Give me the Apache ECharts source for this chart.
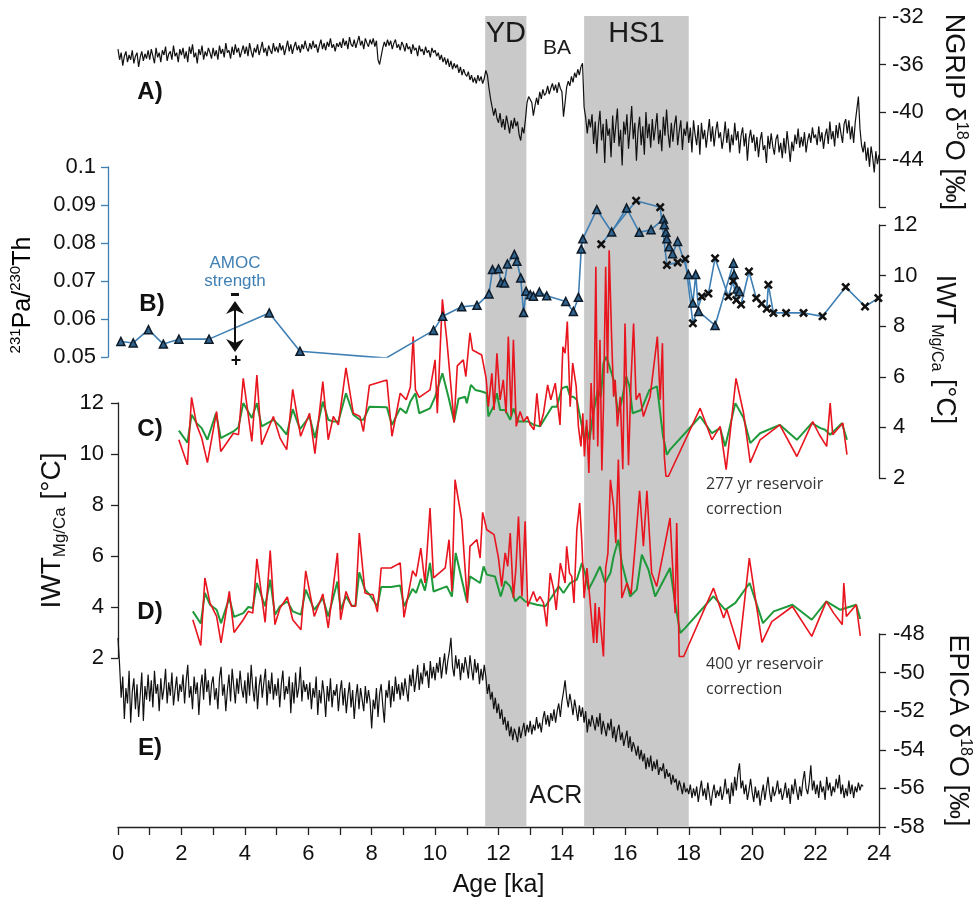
<!DOCTYPE html>
<html>
<head>
<meta charset="utf-8">
<script src="https://cdn.jsdelivr.net/npm/echarts@6/dist/echarts.min.js"></script>
<style>
  html, body { margin: 0; padding: 0; background: #fff; }
  #chart { width: 973px; height: 899px; }
</style>
</head>
<body>
<div id="chart"></div>
<script>
// ---------------- data ----------------
// shaded intervals (ka)
const ydBand = [11.58, 12.88];
const hs1Band = [14.70, 18.00];

// NGRIP d18O (permil), evenly sampled from 0 ka every 0.05 ka (one row per ka)
const ngripStart = 0, ngripStep = 0.05;
const ngripD18O = [
  -34.7,-35.6,-35.0,-36.1,-35.3,-34.9,-35.8,-35.2,-35.6,-34.8,-35.9,-35.3,-35.0,-36.2,-35.4,-34.9,-35.7,-35.1,-35.5,-34.8,
  -35.6,-34.7,-35.3,-35.9,-34.6,-35.4,-35.0,-35.8,-34.8,-35.2,-34.5,-35.7,-35.1,-34.9,-35.6,-34.4,-35.3,-35.0,-35.8,-34.7,
  -35.2,-34.6,-35.5,-34.9,-35.8,-34.5,-35.1,-34.3,-35.4,-35.0,-35.9,-34.7,-35.2,-34.4,-35.6,-34.9,-35.3,-34.6,-35.0,-35.5,
  -34.6,-35.3,-34.8,-35.6,-34.4,-35.1,-34.7,-35.4,-34.2,-35.0,-34.8,-35.5,-34.5,-35.2,-34.3,-35.0,-34.6,-35.4,-34.9,-34.4,
  -35.1,-34.5,-35.3,-34.2,-34.9,-35.4,-34.6,-35.0,-34.3,-35.2,-34.7,-34.1,-35.0,-34.6,-35.3,-34.4,-34.8,-35.1,-34.2,-34.9,
  -34.5,-35.0,-34.2,-34.8,-34.4,-35.2,-34.6,-34.0,-34.9,-34.3,-35.1,-34.5,-34.1,-34.8,-34.4,-35.0,-34.3,-34.7,-34.0,-34.6,
  -34.9,-34.2,-34.7,-34.0,-34.6,-34.3,-35.0,-34.4,-33.9,-34.7,-34.2,-34.8,-34.1,-34.5,-33.8,-34.6,-34.3,-34.9,-34.2,-34.5,
  -34.1,-34.6,-33.8,-34.4,-34.0,-34.7,-33.7,-34.3,-34.5,-33.9,-34.6,-34.1,-33.6,-34.4,-34.0,-34.7,-33.8,-34.2,-34.5,-33.9,
  -34.3,-33.8,-34.5,-34.0,-35.6,-36.0,-35.3,-34.6,-34.1,-34.5,-33.9,-34.4,-34.0,-34.7,-34.2,-33.9,-34.6,-34.3,-34.8,-34.1,
  -34.4,-34.9,-34.2,-34.7,-34.5,-35.1,-34.3,-34.8,-34.6,-35.3,-34.4,-34.9,-34.7,-35.2,-34.5,-35.0,-34.8,-35.4,-34.6,-35.0,
  -34.8,-35.3,-35.0,-35.6,-35.2,-35.8,-35.4,-36.0,-35.5,-36.2,-35.7,-36.4,-35.9,-36.3,-36.0,-36.7,-36.2,-36.9,-36.4,-36.8,
  -37.0,-36.6,-37.3,-36.9,-37.5,-37.1,-37.6,-36.9,-37.4,-37.0,-37.6,-37.2,-36.5,-36.9,-38.0,-38.9,-39.6,-40.3,-39.7,-40.5,
  -40.9,-40.1,-41.3,-40.6,-41.5,-40.3,-41.0,-41.8,-40.7,-41.4,-40.5,-41.2,-40.8,-41.9,-42.4,-41.3,-41.8,-40.6,-39.2,-38.7,
  -38.6,-39.2,-40.3,-39.5,-38.8,-39.4,-38.3,-38.9,-38.1,-38.6,-38.4,-37.8,-38.5,-38.0,-37.6,-38.2,-37.7,-38.4,-37.5,-38.0,
  -38.3,-40.4,-39.2,-37.9,-37.4,-37.8,-37.0,-37.5,-36.7,-37.1,-36.4,-36.9,-36.2,-35.9,-39.6,-40.5,-41.8,-40.6,-41.3,-40.2,
  -42.7,-40.8,-43.5,-41.2,-39.9,-42.4,-41.0,-44.3,-40.6,-42.0,-41.4,-43.8,-40.3,-42.6,-41.1,-39.7,-42.9,-41.5,-44.5,-40.8,
  -41.9,-40.2,-43.1,-41.4,-39.5,-42.3,-40.9,-44.1,-41.6,-40.4,-42.8,-41.2,-43.6,-40.0,-42.2,-41.0,-43.0,-40.6,-42.4,-41.3,
  -40.1,-42.7,-41.5,-43.3,-40.4,-42.0,-39.8,-41.8,-43.0,-40.9,-42.5,-41.1,-40.3,-42.8,-41.6,-40.7,-43.2,-41.4,-42.0,-40.8,
  -42.6,-41.3,-43.4,-40.7,-41.9,-42.8,-41.1,-43.6,-40.9,-42.3,-41.5,-43.0,-41.8,-40.6,-42.5,-41.2,-42.9,-41.6,-40.8,-42.2,
  -41.7,-43.1,-42.2,-40.8,-42.6,-41.4,-43.4,-41.9,-42.8,-40.9,-42.4,-41.6,-43.5,-42.0,-41.3,-42.9,-41.8,-44.1,-42.3,-41.5,
  -42.6,-41.9,-43.3,-42.1,-43.8,-42.4,-41.7,-43.2,-42.8,-44.3,-42.0,-43.1,-41.8,-42.9,-43.6,-42.3,-41.9,-43.4,-42.6,-43.9,
  -42.2,-43.5,-41.6,-42.8,-44.2,-42.5,-43.3,-41.9,-42.7,-41.4,-43.0,-42.1,-42.9,-41.7,-43.4,-42.4,-41.8,-42.6,-41.3,-42.2,
  -41.9,-42.8,-41.2,-42.5,-41.7,-43.1,-42.0,-41.4,-42.7,-40.8,-42.3,-41.6,-42.9,-41.1,-42.2,-40.9,-41.8,-42.6,-41.0,-40.6,
  -41.8,-40.7,-42.3,-41.2,-42.6,-40.9,-39.8,-38.7,-41.4,-42.8,-43.4,-42.5,-44.1,-43.0,-44.6,-42.9,-43.8,-45.1,-43.3,-44.4,
  -43.6
];

// EPICA d18O (permil), evenly sampled from 0 ka every 0.05 ka (one row per ka)
const epicaStart = 0, epicaStep = 0.05;
const epicaD18O = [
  -48.2,-49.6,-51.3,-50.2,-52.4,-50.8,-51.6,-49.9,-52.6,-51.0,-50.3,-51.9,-50.6,-52.3,-51.2,-50.0,-52.5,-50.7,-51.4,-50.1,
  -51.5,-50.4,-51.8,-49.9,-51.1,-50.6,-52.0,-50.3,-51.4,-50.8,-49.8,-51.6,-50.5,-51.2,-50.0,-51.7,-50.9,-50.2,-51.5,-50.6,
  -51.0,-50.1,-51.6,-50.4,-49.6,-51.3,-50.7,-51.9,-50.2,-51.1,-50.5,-52.2,-50.8,-50.1,-51.4,-49.8,-51.0,-50.4,-51.7,-50.6,
  -50.2,-51.4,-50.8,-51.9,-50.3,-49.7,-51.2,-50.6,-52.0,-50.9,-50.1,-51.5,-49.8,-50.7,-51.6,-50.3,-51.1,-49.9,-50.8,-51.3,
  -50.4,-51.6,-50.0,-51.2,-49.6,-50.8,-51.5,-50.2,-51.9,-50.7,-50.1,-51.3,-50.5,-49.8,-51.7,-50.4,-51.1,-50.0,-51.4,-50.6,
  -51.2,-50.3,-51.8,-50.6,-49.9,-51.4,-50.7,-51.1,-50.2,-52.1,-50.5,-51.6,-50.0,-51.3,-50.8,-49.7,-51.5,-50.4,-51.0,-50.6,
  -51.4,-50.5,-51.9,-50.8,-51.3,-50.2,-52.2,-50.9,-51.6,-50.4,-51.1,-52.3,-50.7,-51.5,-50.3,-51.8,-50.9,-51.2,-50.6,-52.0,
  -51.0,-50.4,-51.7,-50.8,-52.1,-51.2,-50.5,-51.8,-50.9,-52.4,-51.3,-50.6,-51.9,-50.8,-51.4,-52.0,-50.7,-51.6,-50.9,-51.5,
  -52.9,-51.4,-51.9,-50.8,-52.3,-51.1,-50.6,-51.7,-52.6,-50.9,-51.3,-50.4,-51.8,-50.7,-51.5,-50.2,-51.1,-50.6,-51.4,-50.5,
  -51.2,-50.3,-50.9,-51.5,-50.1,-50.7,-49.8,-51.0,-50.4,-49.6,-50.9,-50.0,-50.6,-49.5,-50.2,-49.9,-50.8,-49.4,-50.3,-49.7,
  -50.4,-49.5,-50.0,-49.2,-50.3,-49.6,-49.0,-50.1,-49.4,-48.9,-48.2,-49.7,-50.2,-49.1,-49.8,-49.3,-50.4,-49.5,-50.0,-49.2,
  -49.7,-50.3,-49.1,-49.8,-50.4,-49.3,-50.0,-49.5,-50.6,-49.8,-50.4,-49.6,-50.2,-51.1,-50.6,-51.4,-51.0,-51.9,-51.3,-52.1,
  -51.6,-52.4,-51.9,-52.7,-52.3,-53.0,-52.5,-53.3,-52.8,-53.5,-52.9,-53.2,-53.6,-52.8,-53.4,-53.0,-52.6,-53.3,-52.7,-53.1,
  -52.5,-53.2,-52.7,-53.0,-52.3,-52.9,-52.6,-53.1,-52.4,-52.0,-52.7,-52.2,-52.8,-52.1,-52.5,-51.9,-52.6,-52.0,-51.6,-52.3,
  -51.5,-51.0,-50.4,-51.3,-51.8,-51.1,-51.6,-52.2,-51.4,-51.9,-52.5,-51.7,-52.3,-51.8,-52.6,-52.0,-53.1,-52.4,-52.8,-52.2,
  -52.6,-53.0,-52.3,-52.8,-52.1,-53.2,-52.5,-52.9,-53.3,-52.6,-53.0,-52.4,-53.4,-52.8,-53.6,-53.0,-52.7,-53.5,-53.1,-53.8,
  -53.4,-53.0,-53.9,-53.3,-54.1,-53.6,-53.9,-54.3,-53.8,-54.5,-54.0,-54.6,-54.2,-55.0,-54.4,-54.9,-54.3,-55.1,-54.6,-55.0,
  -54.5,-55.3,-54.9,-55.1,-54.7,-55.5,-55.0,-55.4,-55.2,-55.8,-55.3,-55.7,-55.5,-56.1,-55.6,-55.9,-56.3,-55.7,-56.2,-56.0,
  -56.3,-55.8,-56.5,-56.0,-56.4,-55.9,-56.7,-56.1,-55.6,-56.4,-56.0,-56.6,-55.7,-56.3,-56.9,-56.2,-55.8,-56.5,-56.1,-56.4,
  -55.9,-56.6,-56.2,-55.5,-56.3,-56.0,-56.8,-55.7,-56.4,-55.4,-56.1,-55.2,-54.7,-56.0,-55.6,-56.3,-55.8,-56.6,-56.1,-55.5,
  -56.2,-56.7,-55.9,-56.5,-56.1,-56.9,-56.3,-55.8,-56.6,-56.0,-55.4,-56.2,-56.7,-55.9,-56.4,-56.1,-55.6,-56.3,-56.0,-56.6,
  -56.2,-55.7,-56.5,-56.0,-56.8,-55.8,-56.3,-55.5,-56.1,-56.6,-55.9,-56.4,-55.6,-55.1,-56.0,-56.3,-55.7,-54.8,-56.1,-55.6,
  -56.3,-55.8,-56.5,-55.6,-56.2,-55.9,-56.6,-55.4,-56.1,-55.7,-56.4,-55.9,-56.2,-55.5,-56.0,-55.3,-56.3,-55.8,-56.5,-56.0,
  -56.4,-55.6,-56.3,-55.8,-56.5,-55.9,-56.2,-55.7,-56.1,-55.8,-55.9
];

// 231Pa/230Th, [age ka, ratio]
const paThTriangles = [
  [0.09,0.0541],[0.48,0.0537],[0.96,0.0572],[1.43,0.0534],[1.92,0.0547],[2.87,0.0547],
  [4.77,0.0616],[5.74,0.0515],[8.45,0.0497],[9.95,0.0570],[10.24,0.0607],[10.84,0.0632],
  [11.32,0.0636],[11.70,0.0666],[11.81,0.0730],[12.00,0.0732],[12.08,0.0696],[12.19,0.0695],
  [12.28,0.0745],[12.50,0.0770],[12.58,0.0752],[12.70,0.0708],[12.79,0.0617],[12.87,0.0673],
  [13.00,0.0664],[13.10,0.0660],[13.29,0.0671],[13.52,0.0661],[14.12,0.0646],[14.36,0.0620],
  [14.52,0.0657],[14.61,0.0784],[14.66,0.0811],[15.10,0.0888],[15.57,0.0829],[16.04,0.0892],
  [16.44,0.0828],[16.81,0.0835],[17.20,0.0863],[17.23,0.0848],[17.28,0.0828],[17.31,0.0811],
  [17.38,0.0790],[17.49,0.0772],[17.65,0.0804],[17.99,0.0717],[18.13,0.0642],[18.22,0.0717],
  [18.31,0.0620],[18.83,0.0583],[19.41,0.0747],[19.43,0.0717],[19.52,0.0679],[19.60,0.0672]
];
const paThCrosses = [
  [15.24,0.0797],[16.34,0.0911],[17.10,0.0894],[17.31,0.0742],[17.65,0.0749],[17.89,0.0758],
  [18.13,0.0589],[18.41,0.0659],[18.62,0.0667],[18.83,0.0760],[19.25,0.0659],[19.40,0.0700],
  [19.50,0.0650],[19.65,0.0638],[19.90,0.0725],[20.13,0.0655],[20.30,0.0640],[20.46,0.0627],
  [20.51,0.0690],[20.67,0.0616],[21.07,0.0616],[21.62,0.0616],[22.22,0.0607],[22.95,0.0684],
  [23.56,0.0633],[23.98,0.0655]
];

// IWT Mg/Ca (degC), 277 yr reservoir correction, [age ka, temperature]
const iwt277Green = [
  [1.92,3.87],[2.19,3.40],[2.32,4.50],[2.48,4.17],[2.64,3.97],[2.82,3.51],[3.09,4.56],[3.24,3.58],
  [3.64,3.84],[3.80,4.01],[3.95,4.96],[4.22,4.37],[4.38,4.96],[4.53,4.04],[4.90,4.30],[5.11,4.04],
  [5.32,3.71],[5.51,4.72],[5.74,3.93],[6.04,4.43],[6.21,3.58],[6.46,5.02],[6.63,4.30],[6.79,4.23],
  [6.95,4.23],[7.19,5.35],[7.42,4.50],[7.63,4.30],[7.74,4.30],[7.93,4.82],[8.48,4.80],[8.64,4.10],
  [8.90,4.76],[9.09,4.56],[9.22,5.02],[9.38,5.35],[9.50,4.56],[9.84,4.75],[10.00,5.21],[10.23,6.14],
  [10.42,5.21],[10.60,4.23],[10.74,5.13],[10.95,5.21],[11.00,4.95],[11.13,5.68],[11.27,5.48],
  [11.47,5.42],[11.63,5.35],[11.68,4.43],[11.84,4.82],[11.95,5.35],[12.05,4.69],[12.21,4.69],
  [12.37,4.30],[12.47,4.75],[12.63,4.23],[12.79,4.23],[12.95,4.23],[13.11,4.10],[13.31,4.04],
  [13.53,4.49],[13.69,4.82],[13.84,4.82],[14.00,5.55],[14.16,5.62],[14.26,5.21],[14.36,5.21],
  [14.47,5.09],[14.63,4.04],[14.70,3.51],[14.77,4.04],[14.87,3.51],[14.97,4.43],[15.13,5.48],
  [15.23,5.21],[15.31,6.54],[15.40,6.80],[15.50,6.41],[15.63,5.88],[15.77,4.56],[15.87,4.95],
  [16.03,6.01],[16.13,5.62],[16.23,4.56],[16.50,4.69],[16.76,5.48],[17.00,5.62],[17.19,3.64],
  [17.25,3.30],[17.31,2.92],[17.41,3.12],[18.36,4.43],[18.73,3.77],[18.99,3.97],[19.15,3.25],
  [19.47,4.96],[19.73,4.37],[19.94,3.38],[20.25,3.77],[20.87,4.10],[21.41,3.51],[21.88,4.17],
  [22.15,3.97],[22.30,3.91],[22.46,3.71],[22.83,4.17],[22.99,3.51]
];
const iwt277Red = [
  [1.92,3.51],[2.19,2.52],[2.32,5.19],[2.48,4.10],[2.64,3.58],[2.82,2.61],[3.11,4.63],[3.24,3.05],
  [3.64,3.77],[3.80,3.71],[3.95,5.94],[4.22,3.45],[4.38,6.07],[4.53,3.32],[4.90,4.43],[5.11,3.58],
  [5.32,3.12],[5.51,5.50],[5.76,3.65],[6.04,4.56],[6.21,2.96],[6.46,5.81],[6.63,3.51],[6.79,4.43],
  [6.95,4.10],[7.19,6.35],[7.42,4.56],[7.63,4.43],[7.74,3.84],[7.93,5.67],[8.48,5.87],[8.64,3.65],
  [8.90,5.35],[9.09,5.09],[9.22,5.60],[9.31,7.59],[9.38,5.48],[9.50,5.19],[9.84,5.48],[10.00,6.67],
  [10.07,4.56],[10.23,9.06],[10.37,7.46],[10.60,4.19],[10.70,6.43],[10.89,6.67],[10.97,6.01],
  [11.10,7.74],[11.18,7.06],[11.47,6.86],[11.61,5.94],[11.68,4.82],[11.79,6.14],[11.86,4.69],
  [11.95,6.93],[12.05,5.09],[12.15,5.88],[12.24,4.56],[12.31,7.59],[12.40,4.43],[12.47,7.46],
  [12.56,4.04],[12.68,4.63],[12.79,4.23],[12.91,4.43],[13.00,4.10],[13.12,3.91],[13.21,5.35],
  [13.31,4.04],[13.42,4.56],[13.55,5.68],[13.65,5.09],[13.79,5.75],[13.94,4.10],[14.03,7.19],
  [14.10,6.93],[14.17,8.18],[14.26,4.82],[14.34,6.54],[14.45,5.62],[14.52,4.04],[14.60,3.25],
  [14.66,4.56],[14.71,2.85],[14.78,4.30],[14.85,2.20],[14.92,5.75],[15.00,3.51],[15.07,10.35],
  [15.13,3.25],[15.20,7.46],[15.26,2.30],[15.31,4.82],[15.38,10.35],[15.44,6.14],[15.49,11.00],
  [15.57,7.46],[15.63,5.21],[15.68,5.88],[15.75,4.04],[15.84,5.21],[15.92,2.35],[15.99,8.11],
  [16.10,2.50],[16.18,5.88],[16.26,8.11],[16.34,5.09],[16.45,5.35],[16.57,4.43],[16.78,5.21],
  [17.01,7.59],[17.10,5.09],[17.17,7.33],[17.23,2.85],[17.28,2.07],[17.36,2.07],[18.36,4.76],
  [18.73,3.51],[18.99,4.04],[19.18,2.33],[19.49,5.94],[19.73,4.56],[19.94,2.61],[20.25,3.51],
  [20.87,4.10],[21.41,2.85],[21.91,4.23],[22.12,3.71],[22.35,3.25],[22.46,4.96],[22.54,3.71],
  [22.86,4.17],[22.99,2.92]
];

// IWT Mg/Ca (degC), 400 yr reservoir correction, [age ka, temperature]
const iwt400Green = [
  [2.36,3.83],[2.61,3.35],[2.74,4.55],[2.90,4.09],[3.11,3.89],[3.25,3.37],[3.51,4.35],[3.66,3.61],
  [3.95,3.76],[4.11,4.00],[4.25,3.96],[4.38,4.94],[4.64,4.03],[4.80,5.07],[4.95,3.70],[5.11,4.03],
  [5.34,4.22],[5.51,3.83],[5.77,3.70],[5.92,4.68],[6.19,3.89],[6.46,4.35],[6.63,3.63],[6.92,5.00],
  [7.02,3.89],[7.19,4.42],[7.37,4.05],[7.49,4.05],[7.61,5.36],[7.79,4.68],[7.93,4.49],[8.18,4.03],
  [8.30,4.78],[8.61,4.78],[8.90,4.84],[9.02,4.03],[9.29,4.71],[9.40,4.55],[9.55,5.10],[9.68,4.64],
  [9.84,5.73],[9.95,4.61],[10.37,4.81],[10.53,4.41],[10.65,6.12],[11.00,4.22],[11.10,5.20],
  [11.42,4.94],[11.53,5.59],[11.63,5.27],[11.89,5.20],[12.07,4.41],[12.21,5.01],[12.37,4.81],
  [12.53,4.22],[12.68,4.41],[12.84,4.22],[13.00,4.16],[13.21,4.09],[13.48,4.03],[13.69,4.41],
  [13.90,4.81],[14.05,4.55],[14.26,4.94],[14.47,5.07],[14.63,5.72],[14.73,5.33],[14.84,4.68],
  [15.00,5.07],[15.20,5.59],[15.36,4.94],[15.53,5.33],[15.63,5.98],[15.78,6.64],[15.89,5.72],
  [16.05,4.94],[16.15,4.41],[16.36,4.68],[16.52,6.05],[16.73,5.46],[16.94,4.41],[17.41,5.53],
  [17.57,4.16],[17.73,2.98],[17.89,3.18],[18.78,4.42],[19.15,3.89],[19.47,4.16],[19.92,4.94],
  [20.34,3.37],[20.68,3.83],[21.27,4.09],[21.88,3.50],[22.34,4.22],[22.78,3.89],[23.28,4.09],
  [23.41,3.53]
];
const iwt400Red = [
  [2.36,3.50],[2.61,2.49],[2.74,5.14],[2.90,4.16],[3.11,3.63],[3.25,2.59],[3.51,4.61],[3.66,3.00],
  [3.95,3.50],[4.11,3.83],[4.25,3.76],[4.38,5.89],[4.64,3.40],[4.80,6.21],[4.95,3.31],[5.11,3.96],
  [5.34,4.39],[5.51,3.50],[5.77,3.11],[5.92,5.42],[6.19,3.63],[6.46,4.51],[6.63,3.18],[6.92,6.12],
  [7.02,3.50],[7.19,4.61],[7.37,4.03],[7.49,4.03],[7.61,6.90],[7.79,4.55],[7.93,4.49],[8.04,4.49],
  [8.18,3.80],[8.30,5.53],[8.61,5.53],[8.90,5.73],[9.02,3.59],[9.29,5.42],[9.40,5.20],[9.55,6.31],
  [9.68,4.94],[9.84,7.88],[9.95,5.14],[10.32,5.53],[10.44,6.64],[10.53,4.61],[10.63,8.99],
  [10.84,7.42],[11.02,4.16],[11.10,6.38],[11.32,6.64],[11.42,5.92],[11.50,7.71],[11.63,7.03],
  [11.86,6.84],[12.00,5.92],[12.10,4.81],[12.21,6.12],[12.29,5.59],[12.37,6.90],[12.47,4.35],
  [12.55,5.53],[12.63,7.55],[12.74,4.41],[12.84,7.36],[12.92,4.02],[13.10,4.61],[13.21,4.22],
  [13.31,4.41],[13.42,4.16],[13.52,3.24],[13.63,5.33],[13.74,4.68],[13.82,3.89],[13.95,5.72],
  [14.10,4.94],[14.15,6.38],[14.24,5.33],[14.31,5.20],[14.38,4.16],[14.47,7.03],[14.56,8.08],
  [14.63,6.51],[14.70,4.35],[14.79,5.53],[14.88,4.35],[15.00,2.59],[15.05,4.16],[15.10,2.59],
  [15.17,4.00],[15.31,2.06],[15.38,5.53],[15.45,6.10],[15.53,8.99],[15.63,7.95],[15.70,6.50],
  [15.78,9.78],[15.84,7.00],[15.89,4.35],[16.05,4.94],[16.18,4.50],[16.31,6.38],[16.45,8.56],
  [16.57,6.38],[16.68,8.56],[16.83,5.33],[16.99,4.81],[17.41,7.49],[17.57,3.76],[17.62,7.29],
  [17.70,2.06],[17.84,2.06],[18.78,4.74],[19.10,3.57],[19.20,3.90],[19.59,2.33],[19.91,5.92],
  [20.31,2.61],[20.62,3.43],[21.27,4.02],[21.88,2.85],[22.34,4.22],[22.57,3.76],[22.84,3.31],
  [22.89,4.94],[22.97,3.63],[23.28,4.09],[23.41,2.87]
];

// ---------------- styling ----------------
const FONT = '"Liberation Sans", Arial, sans-serif';
const INK = '#111111';
const BLUE = '#3f7fb3';
const RED = '#e8141e';
const GREEN = '#1f9a3a';
const BAND = '#c9c9c9';

const evenSeries = (vals, start, step) => vals.map((v, i) => [+(start + i * step).toFixed(2), v]);

const gridBox = (top, height) => ({ left: 118, right: 94, top, height, containLabel: false, outerBoundsMode: 'none' });

function hiddenX(gi) {
  return { type: 'value', gridIndex: gi, min: 0, max: 24, show: false };
}

function yAxisBase(gi, pos, min, max, interval, color, margin) {
  return {
    type: 'value', gridIndex: gi, position: pos, min, max, interval,
    axisLine: { show: true, onZero: false, lineStyle: { color: color, width: 1.3 } },
    axisTick: { show: true, length: 7, lineStyle: { color: color, width: 1.3 } },
    axisLabel: { fontSize: 22, fontFamily: FONT, color: INK, margin },
    splitLine: { show: false }
  };
}

// rich styles for axis titles (super/subscripts)
const richIso = {
  t: { fontSize: 27, fontFamily: FONT, color: INK, lineHeight: 32 },
  sup: { fontSize: 16, fontFamily: FONT, color: INK, lineHeight: 15, verticalAlign: 'top' }
};
const richIwt = {
  t: { fontSize: 28, fontFamily: FONT, color: INK, lineHeight: 32 },
  sub: { fontSize: 17, fontFamily: FONT, color: INK, lineHeight: 12, verticalAlign: 'bottom' }
};
const richIwtRight = {
  t: { fontSize: 27, fontFamily: FONT, color: INK, lineHeight: 32 },
  sub: { fontSize: 16, fontFamily: FONT, color: INK, lineHeight: 12, verticalAlign: 'bottom' },
  gap: { width: 4, fontSize: 10 }
};
const richPaTh = {
  t: { fontSize: 25, fontFamily: FONT, color: INK, lineHeight: 30 },
  sup: { fontSize: 15, fontFamily: FONT, color: INK, lineHeight: 14, verticalAlign: 'top' }
};

const chart = echarts.init(document.getElementById('chart'), null, { renderer: 'canvas' });

const option = {
  animation: false,
  backgroundColor: '#ffffff',
  grid: [
    gridBox(17, 190),   // NGRIP
    gridBox(167, 190),  // Pa/Th
    gridBox(225, 253),  // IWT, 277 yr
    gridBox(403, 255),  // IWT, 400 yr
    gridBox(634, 193),  // EPICA
    gridBox(16, 811)    // shading + age axis
  ],
  xAxis: [
    hiddenX(0), hiddenX(1), hiddenX(2), hiddenX(3), hiddenX(4),
    {
      type: 'value', gridIndex: 5, min: 0, max: 24, interval: 1, position: 'bottom',
      name: 'Age [ka]', nameLocation: 'middle', nameGap: 46,
      nameTextStyle: { fontSize: 25, fontFamily: FONT, color: INK },
      axisLine: { show: true, onZero: false, lineStyle: { color: '#222', width: 1.3 } },
      axisTick: { show: true, length: 8, lineStyle: { color: '#222', width: 1.3 } },
      axisLabel: { fontSize: 22, fontFamily: FONT, color: INK, margin: 16,
        formatter: v => (v % 2 === 0 ? String(v) : '') },
      splitLine: { show: false }
    }
  ],
  yAxis: [
    Object.assign(yAxisBase(0, 'right', -48, -32, 4, '#222', 13), {
      axisLabel: { fontSize: 22, fontFamily: FONT, color: INK, margin: 13,
        formatter: v => (v === -48 ? '' : String(v)) },
      name: '{t|NGRIP δ}{sup|18}{t|O [‰]}', nameLocation: 'middle', nameRotate: -90, nameGap: 58,
      nameTextStyle: { rich: richIso }
    }),
    Object.assign(yAxisBase(1, 'left', 0.05, 0.1, 0.01, BLUE, 12), { offset: 10 }),
    Object.assign(yAxisBase(2, 'right', 2, 12, 2, '#222', 14), {
      name: '{t|IWT}{sub|Mg/Ca}{t| [°C]}{gap| }', nameLocation: 'middle', nameRotate: -90, nameGap: 28,
      nameTextStyle: { rich: richIwtRight }
    }),
    Object.assign(yAxisBase(3, 'left', 2, 12, 2, '#222', 14), {
      name: '{t|IWT}{sub|Mg/Ca}{t| [°C]}', nameLocation: 'middle', nameRotate: 90, nameGap: 46,
      nameTextStyle: { rich: richIwt }
    }),
    Object.assign(yAxisBase(4, 'right', -58, -48, 2, '#222', 14), {
      name: '{t|EPICA δ}{sup|18}{t|O [‰]}', nameLocation: 'middle', nameRotate: -90, nameGap: 62,
      nameTextStyle: { rich: richIso }
    }),
    { type: 'value', gridIndex: 5, min: 0, max: 1, show: false }
  ],
  series: [
    {
      type: 'line', xAxisIndex: 5, yAxisIndex: 5, data: [], z: 1, silent: true,
      markArea: {
        silent: true,
        itemStyle: { color: BAND },
        label: { show: true, position: 'insideTop', distance: 3,
          fontSize: 29, fontFamily: FONT, color: '#1a1a1a' },
        data: [
          [{ name: 'YD', xAxis: ydBand[0] }, { xAxis: ydBand[1] }],
          [{ name: 'HS1', xAxis: hs1Band[0] }, { xAxis: hs1Band[1] }]
        ]
      }
    },
    {
      name: 'NGRIP', type: 'line', xAxisIndex: 0, yAxisIndex: 0, z: 3, silent: true,
      data: evenSeries(ngripD18O, ngripStart, ngripStep),
      symbol: 'none', lineStyle: { color: INK, width: 1.2 }
    },
    {
      name: 'Pa/Th (triangles)', type: 'line', xAxisIndex: 1, yAxisIndex: 1, z: 4, silent: true,
      data: paThTriangles, symbol: 'triangle', symbolSize: 8,
      lineStyle: { color: BLUE, width: 1.6 },
      itemStyle: { color: '#2f628c', borderColor: '#0e1b28', borderWidth: 1.5 }
    },
    {
      name: 'Pa/Th (crosses)', type: 'line', xAxisIndex: 1, yAxisIndex: 1, z: 4, silent: true,
      data: paThCrosses,
      symbol: 'path://M2,0 L5,3 L8,0 L10,2 L7,5 L10,8 L8,10 L5,7 L2,10 L0,8 L3,5 L0,2 Z',
      symbolSize: 9,
      lineStyle: { color: BLUE, width: 1.6 },
      itemStyle: { color: '#111', borderWidth: 0 }
    },
    {
      name: 'IWT 277 green', type: 'line', xAxisIndex: 2, yAxisIndex: 2, z: 3, silent: true,
      data: iwt277Green, symbol: 'none', lineStyle: { color: GREEN, width: 2 }
    },
    {
      name: 'IWT 277 red', type: 'line', xAxisIndex: 2, yAxisIndex: 2, z: 3, silent: true,
      data: iwt277Red, symbol: 'none', lineStyle: { color: RED, width: 1.6 }
    },
    {
      name: 'IWT 400 green', type: 'line', xAxisIndex: 3, yAxisIndex: 3, z: 3, silent: true,
      data: iwt400Green, symbol: 'none', lineStyle: { color: GREEN, width: 2 }
    },
    {
      name: 'IWT 400 red', type: 'line', xAxisIndex: 3, yAxisIndex: 3, z: 3, silent: true,
      data: iwt400Red, symbol: 'none', lineStyle: { color: RED, width: 1.6 }
    },
    {
      name: 'EPICA', type: 'line', xAxisIndex: 4, yAxisIndex: 4, z: 3, silent: true,
      data: evenSeries(epicaD18O, epicaStart, epicaStep),
      symbol: 'none', lineStyle: { color: INK, width: 1.2 }
    }
  ],
  graphic: [
    // Pa/Th axis title
    { type: 'text', z: 10, silent: true, x: 23, y: 295, rotation: Math.PI / 2,
      style: { text: '{sup|231}{t|Pa/}{sup|230}{t|Th}', rich: richPaTh,
        align: 'center', verticalAlign: 'middle' } },
    // panel letters
    ...[['A)', 150, 92], ['B)', 152, 304], ['C)', 150, 429], ['D)', 150, 612], ['E)', 150, 748]].map(p => ({
      type: 'text', z: 10, silent: true,
      style: { text: p[0], x: p[1], y: p[2], align: 'center', verticalAlign: 'middle',
        font: 'bold 24px ' + FONT, fill: INK }
    })),
    { type: 'text', z: 10, silent: true,
      style: { text: 'BA', x: 557, y: 48, align: 'center', verticalAlign: 'middle', font: '21px ' + FONT, fill: '#1a1a1a' } },
    { type: 'text', z: 10, silent: true,
      style: { text: 'ACR', x: 556, y: 796, align: 'center', verticalAlign: 'middle', font: '25px ' + FONT, fill: '#1a1a1a' } },
    // AMOC strength indicator
    { type: 'text', z: 10, silent: true,
      style: { text: 'AMOC', x: 235, y: 263, align: 'center', verticalAlign: 'middle', font: '17px ' + FONT, fill: BLUE } },
    { type: 'text', z: 10, silent: true,
      style: { text: 'strength', x: 235, y: 281, align: 'center', verticalAlign: 'middle', font: '17px ' + FONT, fill: BLUE } },
    { type: 'rect', z: 10, silent: true, shape: { x: 231, y: 293, width: 8, height: 3 }, style: { fill: INK } },
    { type: 'line', z: 10, silent: true, shape: { x1: 235, y1: 308, x2: 235, y2: 346 }, style: { stroke: INK, lineWidth: 2 } },
    { type: 'polygon', z: 10, silent: true, shape: { points: [[235, 301], [226, 314], [235, 310], [244, 314]] }, style: { fill: INK } },
    { type: 'polygon', z: 10, silent: true, shape: { points: [[235, 352], [226, 339], [235, 343], [244, 339]] }, style: { fill: INK } },
    { type: 'text', z: 10, silent: true,
      style: { text: '+', x: 236, y: 361, align: 'center', verticalAlign: 'middle', font: 'bold 18px ' + FONT, fill: INK } },
    // reservoir-correction notes
    { type: 'text', z: 10, silent: true,
      style: { text: '277 yr reservoir\ncorrection', x: 706, y: 472, align: 'left', verticalAlign: 'top',
        font: '16px "Open Sans", sans-serif', lineHeight: 25, fill: '#333' } },
    { type: 'text', z: 10, silent: true,
      style: { text: '400 yr reservoir\ncorrection', x: 706, y: 652, align: 'left', verticalAlign: 'top',
        font: '16px "Open Sans", sans-serif', lineHeight: 25, fill: '#333' } }
  ]
};

chart.setOption(option);
</script>
</body>
</html>
